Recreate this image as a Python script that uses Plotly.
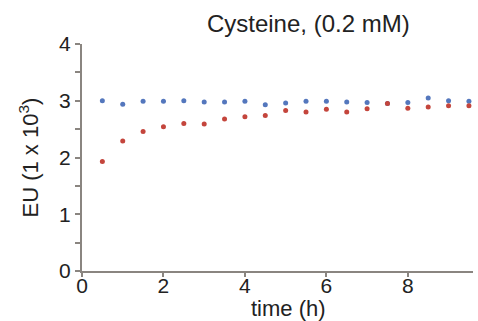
import plotly.graph_objects as go

# Sampling times (h)
time_h = [0.5, 1.0, 1.5, 2.0, 2.5, 3.0, 3.5, 4.0, 4.5, 5.0,
          5.5, 6.0, 6.5, 7.0, 7.5, 8.0, 8.5, 9.0, 9.5]

# Endotoxin units (x 10^3)
eu_control = [3.00, 2.94, 2.99, 2.99, 3.00, 2.98, 2.98, 2.99, 2.93, 2.96,
              2.99, 2.99, 2.98, 2.97, 2.95, 2.97, 3.05, 3.00, 2.99]
eu_cysteine = [1.93, 2.29, 2.46, 2.54, 2.60, 2.59, 2.68, 2.72, 2.74, 2.83,
               2.80, 2.85, 2.80, 2.86, 2.95, 2.87, 2.89, 2.91, 2.91]

axis_grey = "#8a8580"
font_family = "Liberation Sans, Arial, sans-serif"
text_color = "#222222"

fig = go.Figure()
fig.add_trace(go.Scatter(
    x=time_h, y=eu_control, mode="markers",
    marker=dict(size=5, color="#5477bd"), showlegend=False,
))
fig.add_trace(go.Scatter(
    x=time_h, y=eu_cysteine, mode="markers",
    marker=dict(size=5, color="#c4453c"), showlegend=False,
))

fig.update_layout(
    width=478, height=321,
    margin=dict(l=82, r=5, t=44, b=50),
    paper_bgcolor="white", plot_bgcolor="white",
    font=dict(family=font_family, color=text_color),
    title=dict(text="Cysteine, (0.2 mM)", x=0.645, xanchor="center",
               y=0.925, yanchor="middle", font=dict(size=24)),
    xaxis=dict(
        range=[0, 9.6], tickvals=[0, 2, 4, 6, 8],
        showline=True, linecolor=axis_grey, linewidth=2,
        ticks="outside", ticklen=4, tickcolor=axis_grey, tickwidth=1.5,
        ticklabelstandoff=-9,
        showgrid=False, zeroline=False,
        tickfont=dict(size=21),
    ),
    yaxis=dict(
        range=[0, 4], tickvals=[0, 1, 2, 3, 4],
        showline=True, linecolor=axis_grey, linewidth=2,
        ticks="outside", ticklen=5, tickcolor=axis_grey, tickwidth=1.5,
        minor=dict(dtick=0.5, ticks="outside", ticklen=5,
                   tickcolor=axis_grey, tickwidth=1.5),
        showgrid=False, zeroline=False,
        tickfont=dict(size=21),
    ),
    annotations=[
        dict(text="time (h)", xref="paper", yref="paper",
             x=0.527, y=-0.163, xanchor="center", yanchor="middle",
             showarrow=False, font=dict(size=22)),
        dict(text="EU (1 x 10<sup>3</sup>)", xref="paper", yref="paper",
             x=-0.138, y=0.5, xanchor="center", yanchor="middle",
             textangle=-90, showarrow=False, font=dict(size=22)),
    ],
)

fig.write_html("out.html")
